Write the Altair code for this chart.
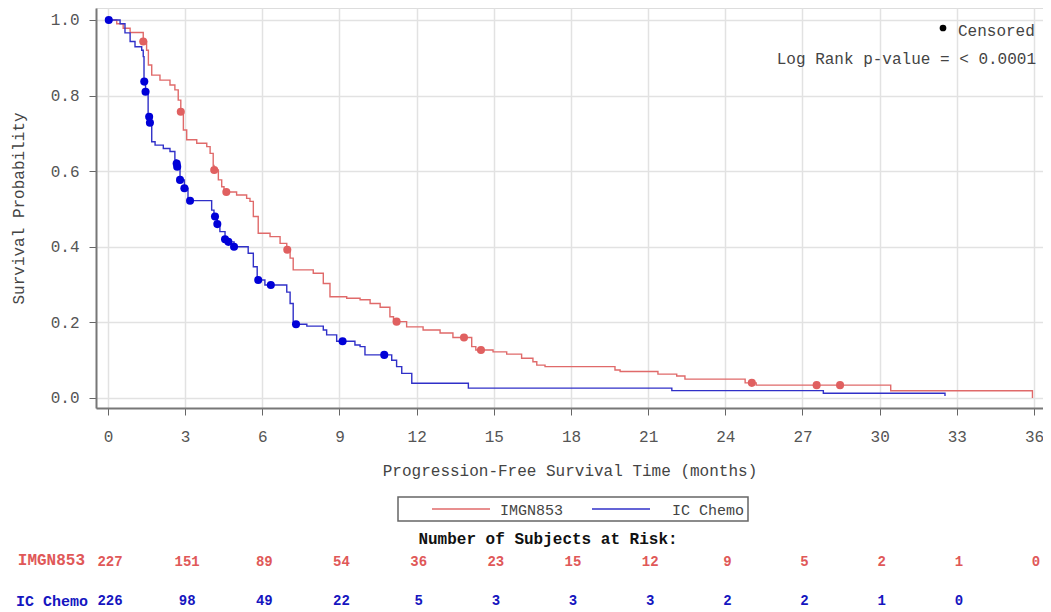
import altair as alt
import pandas as pd

# ---- Kaplan-Meier step data ----
imgn_t = [0, 0.34, 0.59, 0.86, 1.37, 1.50, 1.57, 1.70, 2.02, 2.41, 2.60, 2.73, 2.83, 2.93, 3.06,
          3.45, 3.84, 3.97, 4.09, 4.12, 4.29, 4.42, 4.51, 5.0, 5.39, 5.52, 5.65, 5.84, 6.30, 6.69,
          6.95, 7.08, 7.20, 7.98, 8.37, 8.63, 9.28, 9.80, 10.19, 10.58, 10.96, 11.1, 11.61, 12.25, 12.91,
          13.41, 14.14, 14.3, 14.97, 15.5, 16.08, 16.52, 16.67, 16.99, 19.71, 19.91, 21.38, 22.11, 22.43, 24.77,
          25.2, 30.43, 35.94]
imgn_s = [1.0, 0.99, 0.978, 0.967, 0.943, 0.92, 0.881, 0.854, 0.841, 0.828, 0.815, 0.788, 0.757, 0.709, 0.683,
          0.674, 0.665, 0.647, 0.615, 0.603, 0.577, 0.559, 0.545, 0.537, 0.528, 0.52, 0.48, 0.436, 0.427, 0.409,
          0.392, 0.37, 0.339, 0.33, 0.303, 0.268, 0.264, 0.26, 0.25, 0.24, 0.215, 0.202, 0.188, 0.18, 0.172,
          0.16, 0.136, 0.127, 0.122, 0.116, 0.105, 0.096, 0.087, 0.083, 0.074, 0.07, 0.063, 0.058, 0.05, 0.04,
          0.034, 0.019, 0.0]

chemo_t = [0, 0.47, 0.66, 0.86, 1.05, 1.31, 1.37, 1.40, 1.46, 1.56, 1.63, 1.70, 1.83, 2.15, 2.41,
           2.60, 2.67, 2.69, 2.80, 2.97, 3.11, 4.03, 4.12, 4.25, 4.35, 4.55, 4.68, 4.9, 5.45, 5.65,
           5.8, 6.1, 6.95, 7.08, 7.2, 7.73, 8.37, 8.5, 8.89, 9.6, 9.8, 9.99, 11.03, 11.22, 11.42,
           11.81, 14.01, 21.92, 27.81, 32.54]
chemo_s = [1.0, 0.99, 0.966, 0.943, 0.929, 0.92, 0.903, 0.837, 0.81, 0.744, 0.728, 0.678, 0.669, 0.66, 0.652,
           0.63, 0.62, 0.612, 0.577, 0.555, 0.522, 0.497, 0.48, 0.46, 0.44, 0.42, 0.413, 0.40, 0.383, 0.347,
           0.312, 0.299, 0.28, 0.25, 0.195, 0.19, 0.18, 0.167, 0.15, 0.14, 0.136, 0.114, 0.1, 0.083, 0.065,
           0.039, 0.026, 0.0195, 0.0124, 0.005]

imgn_cens_t = [1.37, 2.83, 4.13, 4.6, 6.97, 11.22, 13.84, 14.5, 25.03, 27.55, 28.46]
imgn_cens_s = [0.943, 0.757, 0.603, 0.545, 0.392, 0.202, 0.16, 0.127, 0.04, 0.034, 0.034]

chemo_cens_t = [0.03, 1.41, 1.46, 1.60, 1.63, 2.67, 2.69, 2.80, 2.97, 3.19, 4.16, 4.25, 4.55, 4.68, 4.90,
                5.84, 6.33, 7.31, 9.12, 10.74]
chemo_cens_s = [1.0, 0.837, 0.81, 0.744, 0.728, 0.62, 0.612, 0.577, 0.555, 0.522, 0.48, 0.46, 0.42, 0.413, 0.40,
                0.312, 0.299, 0.195, 0.15, 0.114]

risk_times = [0, 3, 6, 9, 12, 15, 18, 21, 24, 27, 30, 33, 36]
imgn_risk = [227, 151, 89, 54, 36, 23, 15, 12, 9, 5, 2, 1, 0]
chemo_risk = [226, 98, 49, 22, 5, 3, 3, 3, 2, 2, 1, 0]

arms = ["IMGN853", "IC Chemo"]
line_colors = ["#e06a6a", "#3030c8"]
dot_colors = ["#e06060", "#0000d8"]
text_colors = ["#e05858", "#1515c0"]

FONT = "Liberation Mono"

curves = pd.DataFrame({
    "t": imgn_t + chemo_t,
    "s": imgn_s + chemo_s,
    "arm": [arms[0]] * len(imgn_t) + [arms[1]] * len(chemo_t),
    "ord": list(range(len(imgn_t))) + list(range(len(chemo_t))),
})
cens = pd.DataFrame({
    "t": imgn_cens_t + chemo_cens_t,
    "s": imgn_cens_s + chemo_cens_s,
    "arm": [arms[0]] * len(imgn_cens_t) + [arms[1]] * len(chemo_cens_t),
})
risk_imgn = pd.DataFrame({"t": risk_times, "n": [str(v) for v in imgn_risk]})
risk_chemo = pd.DataFrame({"t": risk_times[:len(chemo_risk)], "n": [str(v) for v in chemo_risk]})

xscale = alt.Scale(domain=[-0.4665, 36.35], nice=False, zero=False)
yscale = alt.Scale(domain=[-0.0265, 1.0317], nice=False, zero=False)

x_axis = alt.Axis(values=risk_times, title="Progression-Free Survival Time (months)", grid=True,
                  gridColor="#e2e2e2", gridWidth=1.5, tickSize=7, tickColor="#666", domain=True,
                  domainColor="#777", domainWidth=2, labelFont=FONT, labelFontSize=16, labelColor="#555",
                  labelPadding=13, titleFont=FONT, titleFontSize=16, titleFontWeight="normal",
                  titleColor="#444", titlePadding=18)
y_axis = alt.Axis(values=[0, 0.2, 0.4, 0.6, 0.8, 1.0], format=".1f", title="Survival Probability", grid=True,
                  gridColor="#e2e2e2", gridWidth=1.5, tickSize=7, tickColor="#666", domain=True,
                  domainColor="#777", domainWidth=2, labelFont=FONT, labelFontSize=16, labelColor="#555",
                  labelPadding=10, titleFont=FONT, titleFontSize=16, titleFontWeight="normal",
                  titleColor="#444", titlePadding=24)

lines = alt.Chart(curves).mark_line(interpolate="step-after", strokeWidth=1.4).encode(
    x=alt.X("t:Q", scale=xscale, axis=x_axis),
    y=alt.Y("s:Q", scale=yscale, axis=y_axis),
    color=alt.Color("arm:N", scale=alt.Scale(domain=arms, range=line_colors), legend=None),
    order="ord:Q",
)

dots = alt.Chart(cens).mark_point(filled=True, size=65, opacity=1).encode(
    x=alt.X("t:Q", scale=xscale),
    y=alt.Y("s:Q", scale=yscale),
    color=alt.Color("arm:N", scale=alt.Scale(domain=arms, range=dot_colors), legend=None),
)

one = pd.DataFrame({"k": ["Censored"]})
cens_dot = alt.Chart(one).mark_point(filled=True, size=45, color="black", opacity=1).encode(
    x=alt.value(847), y=alt.value(20))
cens_txt = alt.Chart(one).mark_text(
    align="left", baseline="middle", font=FONT, fontSize=16, color="#444").encode(
    x=alt.value(862), y=alt.value(23), text="k:N")
pval_txt = alt.Chart(pd.DataFrame({"k": ["Log Rank p-value = < 0.0001"]})).mark_text(
    align="right", baseline="middle", font=FONT, fontSize=16, color="#444").encode(
    x=alt.value(940), y=alt.value(51), text="k:N")

# ---- legend box below the plot ----
leg_box = alt.Chart(pd.DataFrame({"k": ["legend"]})).mark_rect(
    fill="white", stroke="#666", strokeWidth=1.5).encode(
    x=alt.value(302), x2=alt.value(652), y=alt.value(489), y2=alt.value(513))
leg_line_a = alt.Chart(pd.DataFrame({"arm": [arms[0]]})).mark_rule(
    color=line_colors[0], strokeWidth=1.5).encode(
    x=alt.value(336), x2=alt.value(394), y=alt.value(501))
leg_line_b = alt.Chart(pd.DataFrame({"arm": [arms[1]]})).mark_rule(
    color=line_colors[1], strokeWidth=1.5).encode(
    x=alt.value(496), x2=alt.value(554), y=alt.value(501))
leg_txt_a = alt.Chart(pd.DataFrame({"arm": [arms[0]]})).mark_text(
    align="left", baseline="middle", font=FONT, fontSize=15, color="#444").encode(
    x=alt.value(404), y=alt.value(502), text="arm:N")
leg_txt_b = alt.Chart(pd.DataFrame({"arm": [arms[1]]})).mark_text(
    align="left", baseline="middle", font=FONT, fontSize=15, color="#444").encode(
    x=alt.value(576), y=alt.value(502), text="arm:N")

# ---- number at risk table ----
header = alt.Chart(pd.DataFrame({"k": ["Number of Subjects at Risk:"]})).mark_text(
    align="center", baseline="middle", font=FONT, fontSize=16, fontWeight="bold", color="#111").encode(
    x=alt.value(452), y=alt.value(531), text="k:N")

row_imgn_lbl = alt.Chart(pd.DataFrame({"k": [arms[0]]})).mark_text(
    align="right", baseline="middle", font=FONT, fontSize=16, fontWeight="bold", color=text_colors[0]).encode(
    x=alt.value(-11), y=alt.value(552), text="k:N")
row_chemo_lbl = alt.Chart(pd.DataFrame({"k": [arms[1]]})).mark_text(
    align="right", baseline="middle", font=FONT, fontSize=15, fontWeight="bold", color=text_colors[1]).encode(
    x=alt.value(-8), y=alt.value(593), text="k:N")

row_imgn = alt.Chart(risk_imgn).mark_text(
    align="center", baseline="middle", font=FONT, fontSize=14, fontWeight="bold", color=text_colors[0], dx=2).encode(
    x=alt.X("t:Q", scale=xscale), y=alt.value(554), text="n:N")
row_chemo = alt.Chart(risk_chemo).mark_text(
    align="center", baseline="middle", font=FONT, fontSize=14, fontWeight="bold", color=text_colors[1], dx=2).encode(
    x=alt.X("t:Q", scale=xscale), y=alt.value(593), text="n:N")

chart = alt.layer(lines, dots, cens_dot, cens_txt, pval_txt,
                  leg_box, leg_line_a, leg_line_b, leg_txt_a, leg_txt_b, header,
                  row_imgn_lbl, row_chemo_lbl, row_imgn, row_chemo).resolve_scale(color="independent").properties(
    width=947, height=400,
    autosize=alt.AutoSizeParams(type="none"),
    padding={"left": 88, "top": 0, "right": 0, "bottom": 202},
).configure_view(stroke="#8a8a8a", strokeWidth=2).configure(background="white")

chart.save("out.html", embed_options={"renderer": "svg", "actions": False})
